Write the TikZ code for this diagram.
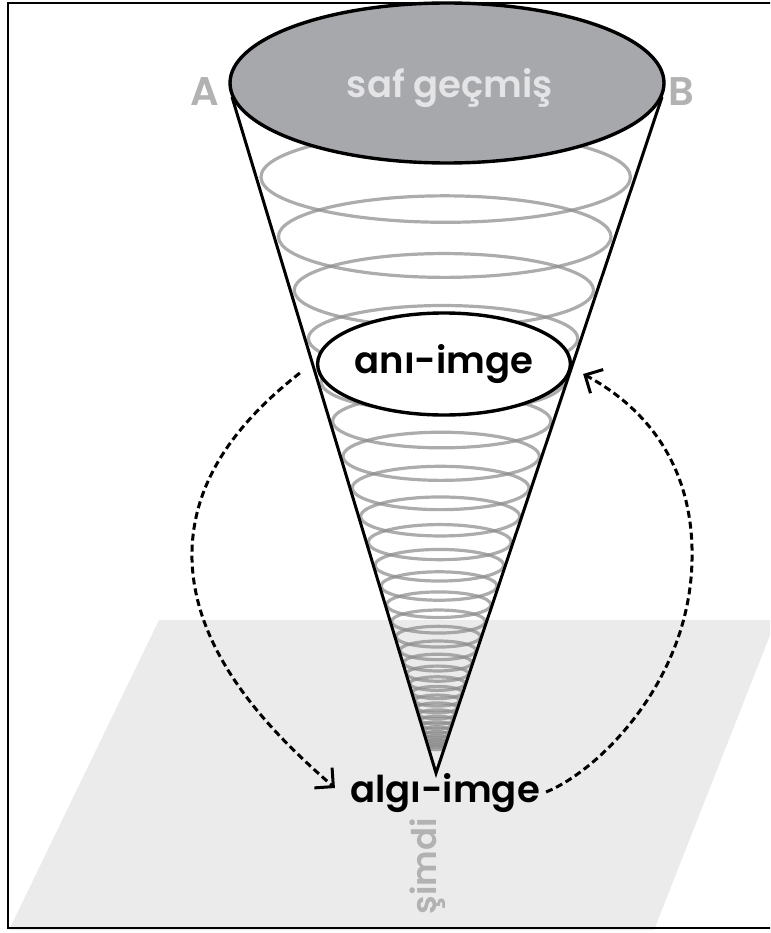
\documentclass[tikz,border=0pt]{standalone}
\usepackage{fontspec}
\setmainfont{Poppins}
\newfontfamily\geofont{Poppins SemiBold}
\usetikzlibrary{arrows.meta,positioning,calc,shapes.geometric}
\definecolor{pastfill}{RGB}{167,168,172}
\definecolor{pasttext}{RGB}{228,228,230}
\definecolor{ringgray}{RGB}{140,140,140}
\definecolor{planegray}{RGB}{235,235,235}
\definecolor{lettergray}{RGB}{178,178,178}
\tikzset{
  cone/.style={draw=black, line width=3pt, line join=miter},
  ring/.style={draw=ringgray, line width=3.2pt, opacity=0.72},
  memory/.style={ellipse, draw=black, line width=3.4pt, inner sep=0pt},
  lbl/.style={font=\geofont\fontsize{37}{37}\selectfont, inner sep=0pt},
  corner/.style={font=\geofont\fontsize{40}{40}\selectfont, text=lettergray, inner sep=0pt},
  recall/.style={draw=black, line width=3pt, dash pattern=on 7pt off 4pt,
    -{Straight Barb[angle=90:19pt]}}
}

\begin{document}
\begin{tikzpicture}[x=1pt, y=-1pt]
  \useasboundingbox (0,0) rectangle (770,933);
  \clip (0,0) rectangle (770,933);

  % plane of the present
  \fill[planegray] (159,620) -- (776,620) -- (654,930) -- (9,930) -- cycle;

  % rings inside the cone
  \foreach \k in {0,...,30}{
    \pgfmathsetmacro\dd{596*0.90^\k}
    \pgfmathsetmacro\rx{0.31*\dd}
    \pgfmathsetmacro\ry{0.076*\dd}
    \draw[ring] ({436+0.0163*\dd},{773-\dd}) ellipse [x radius=\rx pt, y radius=\ry pt];
  }

  % cone
  \coordinate (apex) at (436,773);
  \coordinate (rimL) at (232,97);
  \coordinate (rimR) at (662,97);
  \draw[cone] (rimL) -- (apex) -- (rimR);

  \node[memory, fill=pastfill, minimum width=434pt, minimum height=160pt] (past) at (447,83) {};
  \node[lbl, text=pasttext] (pastlbl) at (450,88) {saf geçmiş};
  \node[corner] (A) at (205,92) {A};
  \node[corner] (B) at (681,92) {B};

  \node[memory, fill=white, minimum width=252pt, minimum height=102pt, lbl] (ani) at (444,364) {anı-imge};
  \node[lbl] (algi) at (445,793) {algı-imge};
  \node[lbl, text=lettergray, rotate=90, font=\geofont\fontsize{34}{34}\selectfont] (simdi) at (428,866) {şimdi};

  % memory loop
  \draw[recall] ($(ani.west)+(-16,9)$) .. controls (240,420) and (190,480) .. (192,560)
    .. controls (195,660) and (280,740) .. ($(algi.west)+(-15,-5)$);
  \draw[recall] ($(algi.east)+(6,-1)$) .. controls (600,770) and (690,680) .. (692,560)
    .. controls (694,470) and (650,410) .. ($(ani.east)+(11,10)$);

  % frame
  \draw[line width=2.4pt] (8,3) rectangle (790,928);
\end{tikzpicture}
\end{document}
